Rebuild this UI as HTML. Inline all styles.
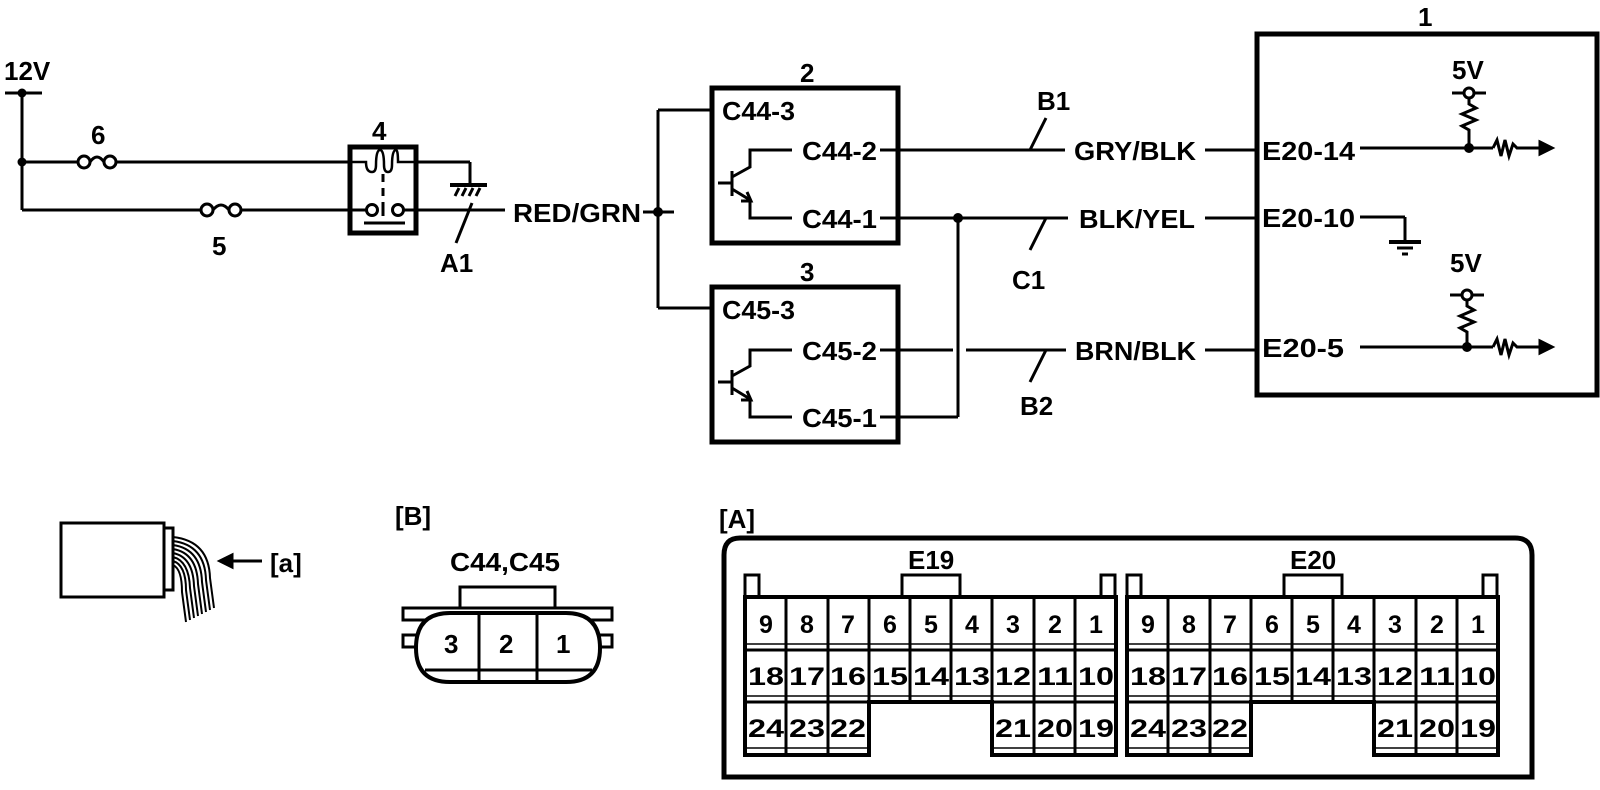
<!DOCTYPE html>
<html><head><meta charset="utf-8"><style>
html,body{margin:0;padding:0;background:#fff;}
svg{display:block;}
text{font-family:"Liberation Sans",Arial,sans-serif;font-weight:bold;fill:#000;}
</style></head><body>
<svg width="1600" height="790" viewBox="0 0 1600 790" xmlns="http://www.w3.org/2000/svg">
<g stroke="#000" stroke-width="3" fill="none" stroke-linecap="butt">
<line x1="5" y1="93" x2="42" y2="93"/>
<line x1="22" y1="93" x2="22" y2="210"/>
<line x1="22" y1="162" x2="78" y2="162"/>
<line x1="116" y1="162" x2="350" y2="162"/>
<line x1="22" y1="210" x2="201" y2="210"/>
<line x1="241" y1="210" x2="350" y2="210"/>
<circle cx="84" cy="162" r="6"/><circle cx="110" cy="162" r="6"/>
<path d="M90 162 Q97 152 104 162"/>
<circle cx="207" cy="210" r="6"/><circle cx="235" cy="210" r="6"/>
<path d="M213 210 Q221 200 229 210"/>
<rect x="350" y="147" width="66" height="86" stroke-width="5"/>
<path d="M350 162 H366 Q366 172 372 172 Q376 172 376 165 Q376 150 380 150 Q384 150 384 165 Q384 172 388 172 Q392 172 392 165 Q392 150 396 150 Q398 150 398 162 H416" stroke-width="2.5"/>
<line x1="383" y1="174" x2="383" y2="182"/><line x1="383" y1="188" x2="383" y2="196"/><line x1="383" y1="202" x2="383" y2="216"/>
<circle cx="372" cy="210" r="5.5"/><circle cx="398" cy="210" r="5.5"/>
<line x1="350" y1="210" x2="366" y2="210"/><line x1="404" y1="210" x2="505" y2="210"/>
<line x1="364" y1="223" x2="405" y2="223"/>
<line x1="416" y1="162" x2="470" y2="162"/><line x1="470" y1="162" x2="470" y2="185"/>
<line x1="450" y1="185" x2="487" y2="185" stroke-width="4"/>
<line x1="455" y1="196" x2="459" y2="188"/><line x1="462" y1="196" x2="466" y2="188"/><line x1="469" y1="196" x2="473" y2="188"/><line x1="476" y1="196" x2="480" y2="188"/>
<line x1="472" y1="203" x2="456" y2="243"/>
<line x1="643" y1="212" x2="674" y2="212"/>
<line x1="658" y1="110" x2="658" y2="308"/>
<line x1="658" y1="110" x2="712" y2="110"/>
<line x1="658" y1="308" x2="712" y2="308"/>
<rect x="712" y="88" width="186" height="155" stroke-width="5"/>
<line x1="718" y1="183" x2="732" y2="183"/>
<line x1="732" y1="171" x2="732" y2="196"/>
<path d="M732 177 L750 167 V150 H792"/>
<path d="M732 189 L750 200 V218 H792"/>
<path d="M741 201 L751 201 L747 192"/>
<rect x="712" y="287" width="186" height="155" stroke-width="5"/>
<line x1="718" y1="382" x2="732" y2="382"/>
<line x1="732" y1="370" x2="732" y2="395"/>
<path d="M732 376 L750 366 V350 H792"/>
<path d="M732 388 L750 399 V417 H792"/>
<path d="M741 400 L751 400 L747 391"/>
<line x1="880" y1="150" x2="1065" y2="150"/>
<line x1="880" y1="218" x2="1068" y2="218"/>
<line x1="880" y1="350" x2="953" y2="350"/>
<line x1="966" y1="350" x2="1066" y2="350"/>
<line x1="880" y1="417" x2="958" y2="417"/>
<line x1="958" y1="218" x2="958" y2="417"/>
<line x1="1030" y1="150" x2="1046" y2="118"/>
<line x1="1046" y1="218" x2="1030" y2="250"/>
<line x1="1046" y1="350" x2="1030" y2="382"/>
<line x1="1205" y1="150" x2="1257" y2="150"/>
<line x1="1205" y1="218" x2="1257" y2="218"/>
<line x1="1205" y1="350" x2="1257" y2="350"/>
<rect x="1257" y="34" width="340" height="361" stroke-width="5"/>
<line x1="1360" y1="148" x2="1493" y2="148"/>
<path d="M1493 148 L1497 140 L1501 156 L1505 140 L1509 156 L1513 144 L1517 148 H1548"/>
<path d="M1540 142 L1552 148 L1540 154 Z" fill="#000"/>
<line x1="1452" y1="93" x2="1486" y2="93"/>
<circle cx="1469" cy="93" r="5" fill="#fff"/>
<path d="M1469 98 V104 L1476 108 L1462 114 L1476 120 L1462 126 L1469 130 V148"/>
<line x1="1360" y1="217" x2="1405" y2="217"/>
<line x1="1405" y1="217" x2="1405" y2="242"/>
<line x1="1389" y1="242" x2="1421" y2="242" stroke-width="4"/>
<line x1="1397" y1="248" x2="1413" y2="248" stroke-width="3"/>
<line x1="1402" y1="254" x2="1408" y2="254" stroke-width="3"/>
<line x1="1360" y1="347" x2="1493" y2="347"/>
<path d="M1493 347 L1497 339 L1501 355 L1505 339 L1509 355 L1513 343 L1517 347 H1548"/>
<path d="M1540 341 L1552 347 L1540 353 Z" fill="#000"/>
<line x1="1450" y1="295" x2="1484" y2="295"/>
<circle cx="1467" cy="295" r="5" fill="#fff"/>
<path d="M1467 300 V306 L1474 310 L1460 316 L1474 322 L1460 328 L1467 332 V347"/>
<rect x="61" y="523" width="103" height="74"/>
<rect x="164" y="528" width="9" height="62"/>
<g stroke-width="2">
<path d="M173 537 Q209 541 210 578 L214 608"/>
<path d="M173 541 Q205 545 206 580 L210 610"/>
<path d="M173 545 Q201 549 202 582 L206 612"/>
<path d="M173 549 Q197 553 198 584 L202 614"/>
<path d="M173 553 Q193 557 194 586 L198 616"/>
<path d="M173 557 Q189 561 190 588 L194 618"/>
<path d="M173 561 Q186 565 186 590 L190 620"/>
<path d="M173 565 Q182 569 182 592 L186 622"/>
</g>
<line x1="228" y1="561" x2="262" y2="561"/>
<path d="M220 561 L232 555 L232 567 Z" fill="#000"/>
<rect x="460" y="587" width="95" height="21"/>
<rect x="403" y="608" width="209" height="12"/>
<rect x="403" y="635" width="14" height="12"/>
<rect x="598" y="635" width="14" height="12"/>
<path d="M450 613 H566 Q600 613 600 648 Q600 682 566 682 H450 Q416 682 416 648 Q416 613 450 613 Z" fill="#fff" stroke-width="4"/>
<line x1="479" y1="613" x2="479" y2="682"/>
<line x1="537" y1="613" x2="537" y2="682"/>
<line x1="425" y1="670" x2="592" y2="670"/>
<path d="M740 538 H1515 Q1532 538 1532 555 V777 H724 V555 Q724 538 740 538 Z" stroke-width="5"/>
</g>
<g fill="#000">
<circle cx="22" cy="93" r="4.5"/><circle cx="22" cy="162" r="4.5"/>
<circle cx="658" cy="212" r="5"/><circle cx="958" cy="218" r="5"/>
<circle cx="1469" cy="148" r="5"/><circle cx="1467" cy="347" r="5"/>
</g>
<g font-size="26">
<text x="4" y="80">12V</text>
<text x="91" y="144">6</text>
<text x="212" y="255">5</text>
<text x="372" y="140">4</text>
<text x="440" y="272">A1</text>
<text x="513" y="222" textLength="128" lengthAdjust="spacingAndGlyphs">RED/GRN</text>
<text x="800" y="82">2</text>
<text x="800" y="281">3</text>
<text x="722" y="120" textLength="73" lengthAdjust="spacingAndGlyphs">C44-3</text>
<text x="802" y="160" textLength="75" lengthAdjust="spacingAndGlyphs">C44-2</text>
<text x="802" y="228" textLength="75" lengthAdjust="spacingAndGlyphs">C44-1</text>
<text x="722" y="319" textLength="73" lengthAdjust="spacingAndGlyphs">C45-3</text>
<text x="802" y="360" textLength="75" lengthAdjust="spacingAndGlyphs">C45-2</text>
<text x="802" y="427" textLength="75" lengthAdjust="spacingAndGlyphs">C45-1</text>
<text x="1037" y="110">B1</text>
<text x="1012" y="289">C1</text>
<text x="1020" y="415">B2</text>
<text x="1074" y="160" textLength="122" lengthAdjust="spacingAndGlyphs">GRY/BLK</text>
<text x="1079" y="228" textLength="116" lengthAdjust="spacingAndGlyphs">BLK/YEL</text>
<text x="1075" y="360" textLength="121" lengthAdjust="spacingAndGlyphs">BRN/BLK</text>
<text x="1418" y="26">1</text>
<text x="1262" y="160" textLength="93" lengthAdjust="spacingAndGlyphs">E20-14</text>
<text x="1262" y="227" textLength="93" lengthAdjust="spacingAndGlyphs">E20-10</text>
<text x="1262" y="357" textLength="82" lengthAdjust="spacingAndGlyphs">E20-5</text>
<text x="1452" y="79">5V</text>
<text x="1450" y="272">5V</text>
<text x="270" y="572" font-weight="normal">[a]</text>
<text x="395" y="525">[B]</text>
<text x="450" y="571" font-weight="normal" textLength="110" lengthAdjust="spacingAndGlyphs">C44,C45</text>
<text x="444" y="653">3</text>
<text x="499" y="653">2</text>
<text x="556" y="653">1</text>
<text x="719" y="528">[A]</text>
<text x="908" y="569" font-weight="normal">E19</text>
<text x="1290" y="569" font-weight="normal">E20</text>
</g>
<g stroke="#000" fill="none" stroke-width="3">
<path d="M745 597 V575 H759 V597"/>
<path d="M1101 597 V575 H1115 V597"/>
<path d="M902 597 V575 H960 V597"/>
<path d="M745 597 H1116 V755 H992 V702 H869 V755 H745 Z" stroke-width="4"/>
<line x1="745" y1="650" x2="1116" y2="650"/>
<line x1="745" y1="644" x2="1116" y2="644" stroke-width="1.5"/>
<line x1="745" y1="702" x2="1116" y2="702"/>
<line x1="745" y1="696" x2="1116" y2="696" stroke-width="1.5"/>
<line x1="745" y1="748" x2="869" y2="748" stroke-width="1.5"/>
<line x1="992" y1="748" x2="1116" y2="748" stroke-width="1.5"/>
<line x1="786" y1="597" x2="786" y2="755"/>
<line x1="828" y1="597" x2="828" y2="755"/>
<line x1="869" y1="597" x2="869" y2="702"/>
<line x1="910" y1="597" x2="910" y2="702"/>
<line x1="951" y1="597" x2="951" y2="702"/>
<line x1="992" y1="597" x2="992" y2="755"/>
<line x1="1034" y1="597" x2="1034" y2="755"/>
<line x1="1075" y1="597" x2="1075" y2="755"/>
</g>
<g font-size="25" text-anchor="middle">
<text x="766" y="633">9</text><text x="807" y="633">8</text><text x="848" y="633">7</text><text x="890" y="633">6</text><text x="931" y="633">5</text><text x="972" y="633">4</text><text x="1013" y="633">3</text><text x="1055" y="633">2</text><text x="1096" y="633">1</text>
<text x="766" y="685" textLength="36" lengthAdjust="spacingAndGlyphs">18</text><text x="807" y="685" textLength="36" lengthAdjust="spacingAndGlyphs">17</text><text x="848" y="685" textLength="36" lengthAdjust="spacingAndGlyphs">16</text><text x="890" y="685" textLength="36" lengthAdjust="spacingAndGlyphs">15</text><text x="931" y="685" textLength="36" lengthAdjust="spacingAndGlyphs">14</text><text x="972" y="685" textLength="36" lengthAdjust="spacingAndGlyphs">13</text><text x="1013" y="685" textLength="36" lengthAdjust="spacingAndGlyphs">12</text><text x="1055" y="685" textLength="36" lengthAdjust="spacingAndGlyphs">11</text><text x="1096" y="685" textLength="36" lengthAdjust="spacingAndGlyphs">10</text>
<text x="766" y="737" textLength="36" lengthAdjust="spacingAndGlyphs">24</text><text x="807" y="737" textLength="36" lengthAdjust="spacingAndGlyphs">23</text><text x="848" y="737" textLength="36" lengthAdjust="spacingAndGlyphs">22</text><text x="1013" y="737" textLength="36" lengthAdjust="spacingAndGlyphs">21</text><text x="1055" y="737" textLength="36" lengthAdjust="spacingAndGlyphs">20</text><text x="1096" y="737" textLength="36" lengthAdjust="spacingAndGlyphs">19</text>
</g>
<g transform="translate(382,0)">
<g stroke="#000" fill="none" stroke-width="3">
<path d="M745 597 V575 H759 V597"/>
<path d="M1101 597 V575 H1115 V597"/>
<path d="M902 597 V575 H960 V597"/>
<path d="M745 597 H1116 V755 H992 V702 H869 V755 H745 Z" stroke-width="4"/>
<line x1="745" y1="650" x2="1116" y2="650"/>
<line x1="745" y1="644" x2="1116" y2="644" stroke-width="1.5"/>
<line x1="745" y1="702" x2="1116" y2="702"/>
<line x1="745" y1="696" x2="1116" y2="696" stroke-width="1.5"/>
<line x1="745" y1="748" x2="869" y2="748" stroke-width="1.5"/>
<line x1="992" y1="748" x2="1116" y2="748" stroke-width="1.5"/>
<line x1="786" y1="597" x2="786" y2="755"/>
<line x1="828" y1="597" x2="828" y2="755"/>
<line x1="869" y1="597" x2="869" y2="702"/>
<line x1="910" y1="597" x2="910" y2="702"/>
<line x1="951" y1="597" x2="951" y2="702"/>
<line x1="992" y1="597" x2="992" y2="755"/>
<line x1="1034" y1="597" x2="1034" y2="755"/>
<line x1="1075" y1="597" x2="1075" y2="755"/>
</g>
<g font-size="25" text-anchor="middle">
<text x="766" y="633">9</text><text x="807" y="633">8</text><text x="848" y="633">7</text><text x="890" y="633">6</text><text x="931" y="633">5</text><text x="972" y="633">4</text><text x="1013" y="633">3</text><text x="1055" y="633">2</text><text x="1096" y="633">1</text>
<text x="766" y="685" textLength="36" lengthAdjust="spacingAndGlyphs">18</text><text x="807" y="685" textLength="36" lengthAdjust="spacingAndGlyphs">17</text><text x="848" y="685" textLength="36" lengthAdjust="spacingAndGlyphs">16</text><text x="890" y="685" textLength="36" lengthAdjust="spacingAndGlyphs">15</text><text x="931" y="685" textLength="36" lengthAdjust="spacingAndGlyphs">14</text><text x="972" y="685" textLength="36" lengthAdjust="spacingAndGlyphs">13</text><text x="1013" y="685" textLength="36" lengthAdjust="spacingAndGlyphs">12</text><text x="1055" y="685" textLength="36" lengthAdjust="spacingAndGlyphs">11</text><text x="1096" y="685" textLength="36" lengthAdjust="spacingAndGlyphs">10</text>
<text x="766" y="737" textLength="36" lengthAdjust="spacingAndGlyphs">24</text><text x="807" y="737" textLength="36" lengthAdjust="spacingAndGlyphs">23</text><text x="848" y="737" textLength="36" lengthAdjust="spacingAndGlyphs">22</text><text x="1013" y="737" textLength="36" lengthAdjust="spacingAndGlyphs">21</text><text x="1055" y="737" textLength="36" lengthAdjust="spacingAndGlyphs">20</text><text x="1096" y="737" textLength="36" lengthAdjust="spacingAndGlyphs">19</text>
</g>
</g>
</svg>
</body></html>
